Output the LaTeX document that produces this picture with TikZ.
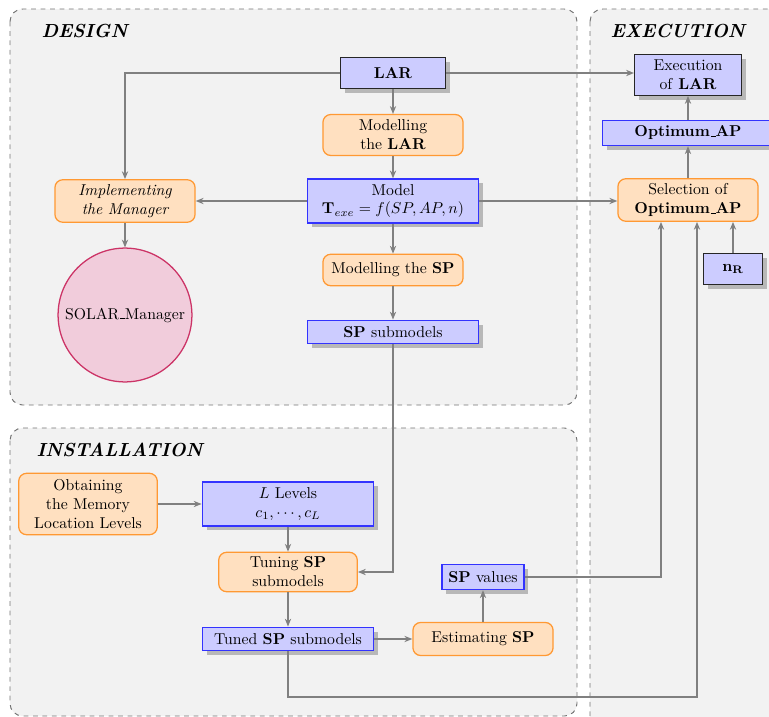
\documentclass[tikz,border=0pt]{standalone}
\usetikzlibrary{shadows,calc,arrows.meta}
\definecolor{bgray}{RGB}{242,242,242}
\definecolor{oborder}{RGB}{255,153,51}
\definecolor{ofill}{RGB}{255,224,192}
\definecolor{bborder}{RGB}{51,51,255}
\definecolor{bfill}{RGB}{204,204,255}
\definecolor{cfill}{RGB}{241,204,219}
\definecolor{cborder}{RGB}{204,51,102}
\newcommand\myusc{\leavevmode\kern.06em\vbox{\hrule width.3em}}
\tikzset{
  panel/.style={draw=black!55, dashed, fill=bgray, rounded corners=8pt, semithick},
  paneltitle/.style={font=\large\bfseries\itshape, anchor=west},
  shad/.style={drop shadow={shadow xshift=2.8pt, shadow yshift=-2.8pt, fill=black!28, opacity=1}},
  procbox/.style={draw=oborder, fill=ofill, thick, rounded corners=5pt, align=center, inner sep=2pt},
  databox/.style={draw=bborder, fill=bfill, thick, shad, align=center, inner sep=2pt},
  blackbox/.style={draw=black!85, fill=bfill, semithick, shad, align=center, inner sep=2pt},
  conn/.style={draw=black!50, thick, -{Stealth[length=5pt,width=4pt]}},
  line/.style={draw=black!50, thick}
}
\begin{document}
\begin{tikzpicture}[x=0.635pt, y=-0.635pt]
\useasboundingbox (0,0) rectangle (769,717);
\clip (0,0) rectangle (769,717);
% panels
\draw[panel] (10,9) rectangle (577,405);
\draw[panel] (10,428) rectangle (577,716);
\draw[panel] (590,9) rectangle (820,780);
\node[paneltitle] (tdesign) at (36,31) {DESIGN};
\node[paneltitle] (texec) at (605,31) {EXECUTION};
\node[paneltitle] (tinst) at (31,450) {INSTALLATION};
% design nodes
\node[blackbox, minimum width=67pt, minimum height=20pt] (lar) at (393,73) {\textbf{LAR}};
\node[procbox, minimum width=89pt, minimum height=26pt] (mlar) at (393,135) {Modelling\\the \textbf{LAR}};
\node[databox, minimum width=109pt, minimum height=28pt] (model) at (393,201) {Model\\$\mathbf{T}_{exe} = f(SP, AP, n)$};
\node[procbox, minimum width=89pt, minimum height=27pt] (impl) at (125,201) {\itshape Implementing\\\itshape the Manager};
\node[circle, draw=cborder, fill=cfill, thick, minimum size=85pt, inner sep=0pt] (solar) at (125,315) {SOLAR\myusc Manager};
\node[procbox, minimum width=89pt, minimum height=20pt] (msp) at (393,270) {Modelling the \textbf{SP}};
\node[databox, minimum width=109pt, minimum height=15pt, inner sep=1pt] (spsub) at (393,332) {\textbf{SP} submodels};
% execution nodes
\node[blackbox, minimum width=68pt, minimum height=26pt] (exec) at (688,75) {Execution\\of \textbf{LAR}};
\node[databox, minimum width=109pt, minimum height=16pt, inner sep=1pt] (opt) at (688,133) {\textbf{Optimum\myusc AP}};
\node[procbox, minimum width=89pt, minimum height=27pt] (sel) at (688,200) {Selection of\\\textbf{Optimum\myusc AP}};
\node[blackbox, minimum width=37.5pt, minimum height=20pt] (nr) at (733,269) {$\mathbf{n_R}$};
% installation nodes
\node[procbox, minimum width=88pt, minimum height=39pt] (obt) at (88,504) {Obtaining\\the Memory\\Location Levels};
\node[databox, minimum width=109pt, minimum height=28pt] (llev) at (288,504) {$L$ Levels\\$c_1,\cdots,c_L$};
\node[procbox, minimum width=88pt, minimum height=25pt] (tuning) at (288,572) {Tuning \textbf{SP}\\submodels};
\node[databox, minimum width=109pt, minimum height=15pt, inner sep=1pt] (tuned) at (288,639) {Tuned \textbf{SP} submodels};
\node[procbox, minimum width=89pt, minimum height=21pt] (est) at (483,639) {Estimating \textbf{SP}};
\node[databox, minimum width=52pt, minimum height=16pt, inner sep=1pt] (spval) at (483,577) {\textbf{SP} values};
% helper coordinates
\coordinate (selin1) at ($(sel.south)+(-27,0)$);
\coordinate (selin2) at ($(sel.south)+(9,0)$);
\coordinate (lowbend) at (288,697);
% connectors
\draw[conn] (lar.west) -| (impl.north);
\draw[conn] (lar) -- (mlar);
\draw[conn] (mlar) -- (model);
\draw[conn] (model) -- (msp);
\draw[conn] (msp) -- (spsub);
\draw[conn] (model.west) -- (impl.east);
\draw[conn] (impl) -- (solar);
\draw[conn] (lar.east) -- (exec.west |- lar.east);
\draw[conn] (opt) -- (exec);
\draw[conn] (sel) -- (opt);
\draw[conn] (model.east) -- (sel.west |- model.east);
\draw[conn] (spsub.south) |- (tuning.east);
\draw[conn] (obt) -- (llev);
\draw[conn] (llev) -- (tuning);
\draw[conn] (tuning) -- (tuned);
\draw[conn] (tuned) -- (est);
\draw[conn] (est) -- (spval);
\draw[conn] (spval.east) -| (selin1);
\draw[conn] (tuned.south) -- (lowbend) -| (selin2);
\draw[conn] (nr.north) -- (nr.north |- sel.south);
\end{tikzpicture}
\end{document}
